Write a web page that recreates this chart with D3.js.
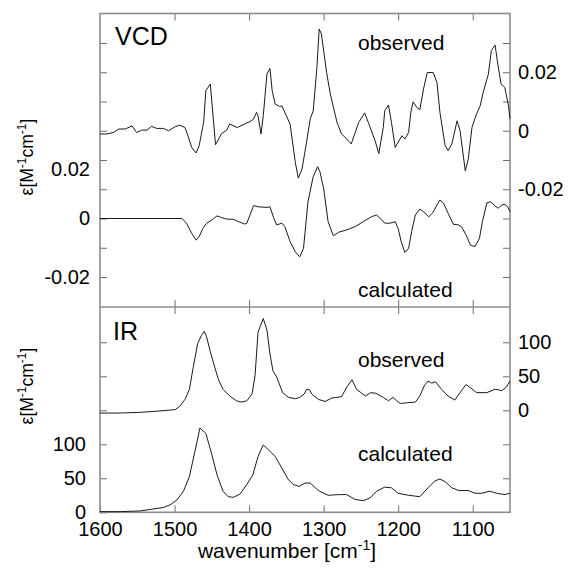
<!DOCTYPE html>
<html><head><meta charset="utf-8">
<script src="https://cdn.jsdelivr.net/npm/d3@7"></script>
<style>
body{margin:0;background:#fff}
text{font-family:"Liberation Sans",Arial,Helvetica,sans-serif;fill:#000}
</style>
</head><body>
<svg id="c" width="570" height="571"></svg>
<script>
// ---------- data ----------
const xTickValues = [1600, 1500, 1400, 1300, 1200, 1100];
const vcdLeftMarks = [-0.02, -0.01, 0, 0.01, 0.02, 0.03, 0.04, 0.05, 0.06];
const vcdLeftLabels = [-0.02, 0, 0.02];
const vcdRightMarks = [-0.05, -0.04, -0.03, -0.02, -0.01, 0, 0.01, 0.02, 0.03];
const vcdRightLabels = [0.02, 0, -0.02];
const irLeftMarks = [0, 50, 100, 150, 200, 250];
const irLeftLabels = [0, 50, 100];
const irRightMarks = [-100, -50, 0, 50, 100];
const irRightLabels = [100, 50, 0];

const vcdObsWn = [1600,1591,1582,1575,1566,1557,1551,1544,1537,1531,1524,1515,1508,1499,1493,1486,1482,1477,1471,1467,1461,1458,1452,1445,1437,1430,1426,1416,1406,1399,1394,1390,1388,1384,1381,1376,1372,1369,1365,1359,1356,1350,1345,1338,1334,1329,1323,1318,1314,1309,1306,1303,1296,1291,1282,1276,1269,1263,1253,1245,1240,1231,1226,1220,1218,1213,1209,1204,1195,1191,1186,1183,1180,1175,1171,1166,1161,1153,1148,1144,1137,1133,1128,1121,1117,1110,1106,1101,1095,1090,1086,1079,1075,1070,1066,1062,1057,1052,1050];
const vcdObsEps = [-0.0011,-0.0011,-0.0006,0.0006,0.0006,0.0017,-0.0006,0.0002,0.0002,0.0015,0.0008,0.0008,0,0.0014,0.0019,0.0011,-0.0017,-0.0057,-0.0076,-0.0051,0.0028,0.0137,0.0160,-0.0048,-0.0010,0.0002,0.0023,0.0011,0.0023,0.0031,0.0040,0.0063,0.0051,-0.0011,0.0051,0.0194,0.0213,0.0137,0.0091,0.0083,0.0085,0.0051,0.0023,-0.0108,-0.0162,-0.0131,-0.0040,0.0040,0.0068,0.0216,0.0348,0.0331,0.0199,0.0125,0.0028,-0.0011,-0.0028,-0.0045,0.0028,0.0061,0.0028,-0.0034,-0.0078,0.0011,0.0068,0.0088,0.0028,-0.0057,-0.0017,-0.0028,-0.0006,0.0063,0.0099,0.0080,0.0072,0.0143,0.0199,0.0199,0.0165,0.0063,-0.0051,-0.0068,-0.0045,0.0034,0,-0.0137,-0.0097,0.0011,0.0057,0.0085,0.0131,0.0194,0.0274,0.0293,0.0222,0.0160,0.0148,0.0085,0.0041];

const vcdCalcWn = [1600,1490,1484,1477,1471,1467,1462,1457,1450,1443,1437,1430,1421,1414,1406,1403,1394,1388,1376,1372,1367,1363,1356,1352,1345,1338,1332,1327,1321,1314,1308,1305,1300,1294,1287,1280,1269,1258,1247,1236,1229,1222,1218,1211,1204,1200,1196,1191,1186,1182,1177,1171,1166,1159,1154,1148,1144,1139,1133,1126,1119,1115,1109,1103,1097,1091,1087,1081,1076,1070,1066,1061,1057,1053,1050];
const vcdCalcEps = [0,0,-0.0016,-0.0051,-0.0074,-0.0062,-0.0034,-0.0016,-0.0005,0.0009,0.0003,-0.0002,-0.0003,-0.0011,-0.0019,-0.0016,0.0044,0.0040,0.0038,0.0040,0.0002,-0.0022,-0.0016,-0.0028,-0.0079,-0.0114,-0.0131,-0.0102,0.0057,0.0143,0.0177,0.0160,0.0103,-0.0011,-0.0059,-0.0047,-0.0039,-0.0028,-0.0011,0.0006,0.0012,-0.0005,-0.0016,-0.0016,-0.0011,-0.0034,-0.0079,-0.0116,-0.0102,-0.0045,0.0012,0.0032,0.0023,0.0006,0.0018,0.0046,0.0063,0.0052,0.0018,-0.0020,-0.0022,-0.0028,-0.0056,-0.0091,-0.0096,-0.0068,-0.0011,0.0054,0.0057,0.0043,0.0035,0.0046,0.0049,0.0040,0.0023];

const irObsWn = [1600,1573,1546,1520,1499,1493,1486,1480,1475,1469,1464,1460,1457,1452,1446,1441,1435,1426,1417,1410,1403,1396,1392,1388,1381,1376,1372,1368,1363,1355,1347,1338,1332,1326,1323,1319,1316,1307,1298,1289,1276,1269,1262,1256,1244,1237,1230,1220,1213,1207,1202,1197,1189,1177,1171,1165,1160,1155,1150,1142,1133,1124,1117,1109,1104,1095,1081,1070,1061,1055,1050];
const irObsEps = [-4,-4,-3,-1,1,6,16,31,63,98,110,116,108,86,63,45,31,21,14,12,14,24,51,115,135,118,83,58,49,26,19,17,19,24,31,30,24,16,13,18,20,34,45,31,21,26,25,19,14,19,14,10,11,12,21,36,43,40,42,31,21,15,26,38,34,26,26,31,29,34,43];

const irCalcWn = [1600,1573,1546,1528,1515,1506,1497,1488,1480,1473,1466,1458,1450,1443,1435,1428,1421,1412,1403,1395,1388,1381,1374,1365,1356,1348,1341,1333,1325,1318,1307,1294,1280,1269,1258,1247,1238,1229,1218,1209,1200,1186,1171,1160,1151,1144,1137,1128,1119,1106,1097,1088,1077,1068,1057,1050];
const irCalcEps = [1,1,2,5,7,11,18,31,53,88,124,116,85,55,31,23,22,27,41,55,82,99,92,82,65,49,41,38,43,43,32,25,26,26,19,17,21,31,37,36,28,25,23,36,46,49,45,36,32,32,28,28,31,28,26,28];

// ---------- layout ----------
const L = 100, R = 510, T = 13.5, M = 307, B = 512.3;
const svg = d3.select("#c");
const x = d3.scaleLinear().domain([1600, 1050]).range([L, R]);
const yVL = d3.scaleLinear().domain([-0.03, 0.07]).range([306.25, 13.75]);
const yVR = d3.scaleLinear().domain([-0.06, 0.04]).range([306.25, 13.75]);
const yIL = d3.scaleLinear().domain([0, 250]).range([B, 342.3]);
const yIR = d3.scaleLinear().domain([-150, 100]).range([B, 342.3]);

const TICK = "#6e6e6e", FRAME = "#8c8c8c";
const has = (arr, d) => arr.some(v => Math.abs(v - d) < 1e-9);
const fmtV = d => Math.abs(d) < 1e-9 ? "0" : d.toFixed(2);

function style(g, fs) {
  g.select(".domain").remove();
  g.selectAll(".tick line").attr("stroke", TICK).attr("stroke-width", 1);
  g.selectAll(".tick text").attr("font-size", fs).attr("fill", "#000")
    .style("font-family", '"Liberation Sans",Arial,Helvetica,sans-serif');
  return g;
}

// ---------- VCD panel axes ----------
const gVL = svg.append("g").attr("transform", `translate(${L},0)`)
  .call(d3.axisLeft(yVL).tickValues(vcdLeftMarks).tickSize(-7).tickPadding(10)
    .tickFormat(d => has(vcdLeftLabels, d) ? fmtV(d) : ""));
style(gVL, 20);
gVL.selectAll(".tick text").filter(d => Math.abs(d - 0.02) < 1e-9).attr("y", 9);

const gVR = svg.append("g").attr("transform", `translate(${R},0)`)
  .call(d3.axisRight(yVR).tickValues(vcdRightMarks).tickSize(-7).tickPadding(8)
    .tickFormat(d => has(vcdRightLabels, d) ? fmtV(d) : ""));
style(gVR, 20);

// ---------- IR panel axes ----------
const gIL = svg.append("g").attr("transform", `translate(${L},0)`)
  .call(d3.axisLeft(yIL).tickValues(irLeftMarks).tickSize(-7).tickPadding(14)
    .tickFormat(d => has(irLeftLabels, d) ? String(d) : ""));
style(gIL, 20);

const gIR = svg.append("g").attr("transform", `translate(${R},0)`)
  .call(d3.axisRight(yIR).tickValues(irRightMarks).tickSize(-7).tickPadding(8)
    .tickFormat(d => has(irRightLabels, d) ? String(d) : ""));
style(gIR, 20);

// ---------- x axes ----------
const inner = xTickValues.filter(d => d !== 1600);
style(svg.append("g").attr("transform", `translate(0,${T})`)
  .call(d3.axisTop(x).tickValues(inner).tickSize(-7).tickFormat("")), 20);
style(svg.append("g").attr("transform", `translate(0,${M})`)
  .call(d3.axisBottom(x).tickValues(inner).tickSize(-7).tickFormat("")), 20);
style(svg.append("g").attr("transform", `translate(0,${M})`)
  .call(d3.axisBottom(x).tickValues(inner).tickSize(7).tickFormat("")), 20);
style(svg.append("g").attr("transform", `translate(0,${B})`)
  .call(d3.axisBottom(x).tickValues(xTickValues).tickSize(-7).tickPadding(10)
    .tickFormat(d => String(d))), 20);

// ---------- frame ----------
const frame = svg.append("g").attr("stroke", FRAME).attr("stroke-width", 1.6).attr("fill", "none");
frame.append("rect").attr("x", L).attr("y", T).attr("width", R - L).attr("height", B - T);
frame.append("line").attr("x1", L).attr("x2", R).attr("y1", M).attr("y2", M);

// ---------- curves ----------
function curve(wn, eps, ys) {
  svg.append("path")
    .datum(d3.zip(wn, eps))
    .attr("fill", "none").attr("stroke", "#1a1a1a").attr("stroke-width", 1)
    .attr("stroke-linejoin", "round")
    .attr("d", d3.line().x(d => x(d[0])).y(d => ys(d[1])));
}
curve(vcdObsWn, vcdObsEps, yVR);
curve(vcdCalcWn, vcdCalcEps, yVL);
curve(irObsWn, irObsEps, yIR);
curve(irCalcWn, irCalcEps, yIL);

// ---------- texts ----------
function txt(s, xx, yy, fs, anchor) {
  return svg.append("text").attr("x", xx).attr("y", yy).attr("font-size", fs)
    .attr("text-anchor", anchor || "start").text(s);
}
txt("VCD", 115, 45, 25);
txt("IR", 113, 340, 25);
txt("observed", 358, 49.5, 21);
txt("calculated", 358, 296.5, 21);
txt("observed", 358, 366.5, 21);
txt("calculated", 358, 461, 21);

function epsLabel(cy) {
  const t = svg.append("text").attr("transform", `translate(33,${cy}) rotate(-90)`)
    .attr("text-anchor", "middle").attr("font-size", 17.5);
  t.append("tspan").text("ε[M");
  t.append("tspan").attr("font-size", 12).attr("dy", -7).text("-1");
  t.append("tspan").attr("dy", 7).text("cm");
  t.append("tspan").attr("font-size", 12).attr("dy", -7).text("-1");
  t.append("tspan").attr("dy", 7).text("]");
}
epsLabel(157);
epsLabel(386);

const xt = svg.append("text").attr("x", 287).attr("y", 558).attr("text-anchor", "middle").attr("font-size", 21);
xt.append("tspan").text("wavenumber [cm");
xt.append("tspan").attr("font-size", 14).attr("dy", -8).text("-1");
xt.append("tspan").attr("dy", 8).text("]");
</script>
</body></html>
